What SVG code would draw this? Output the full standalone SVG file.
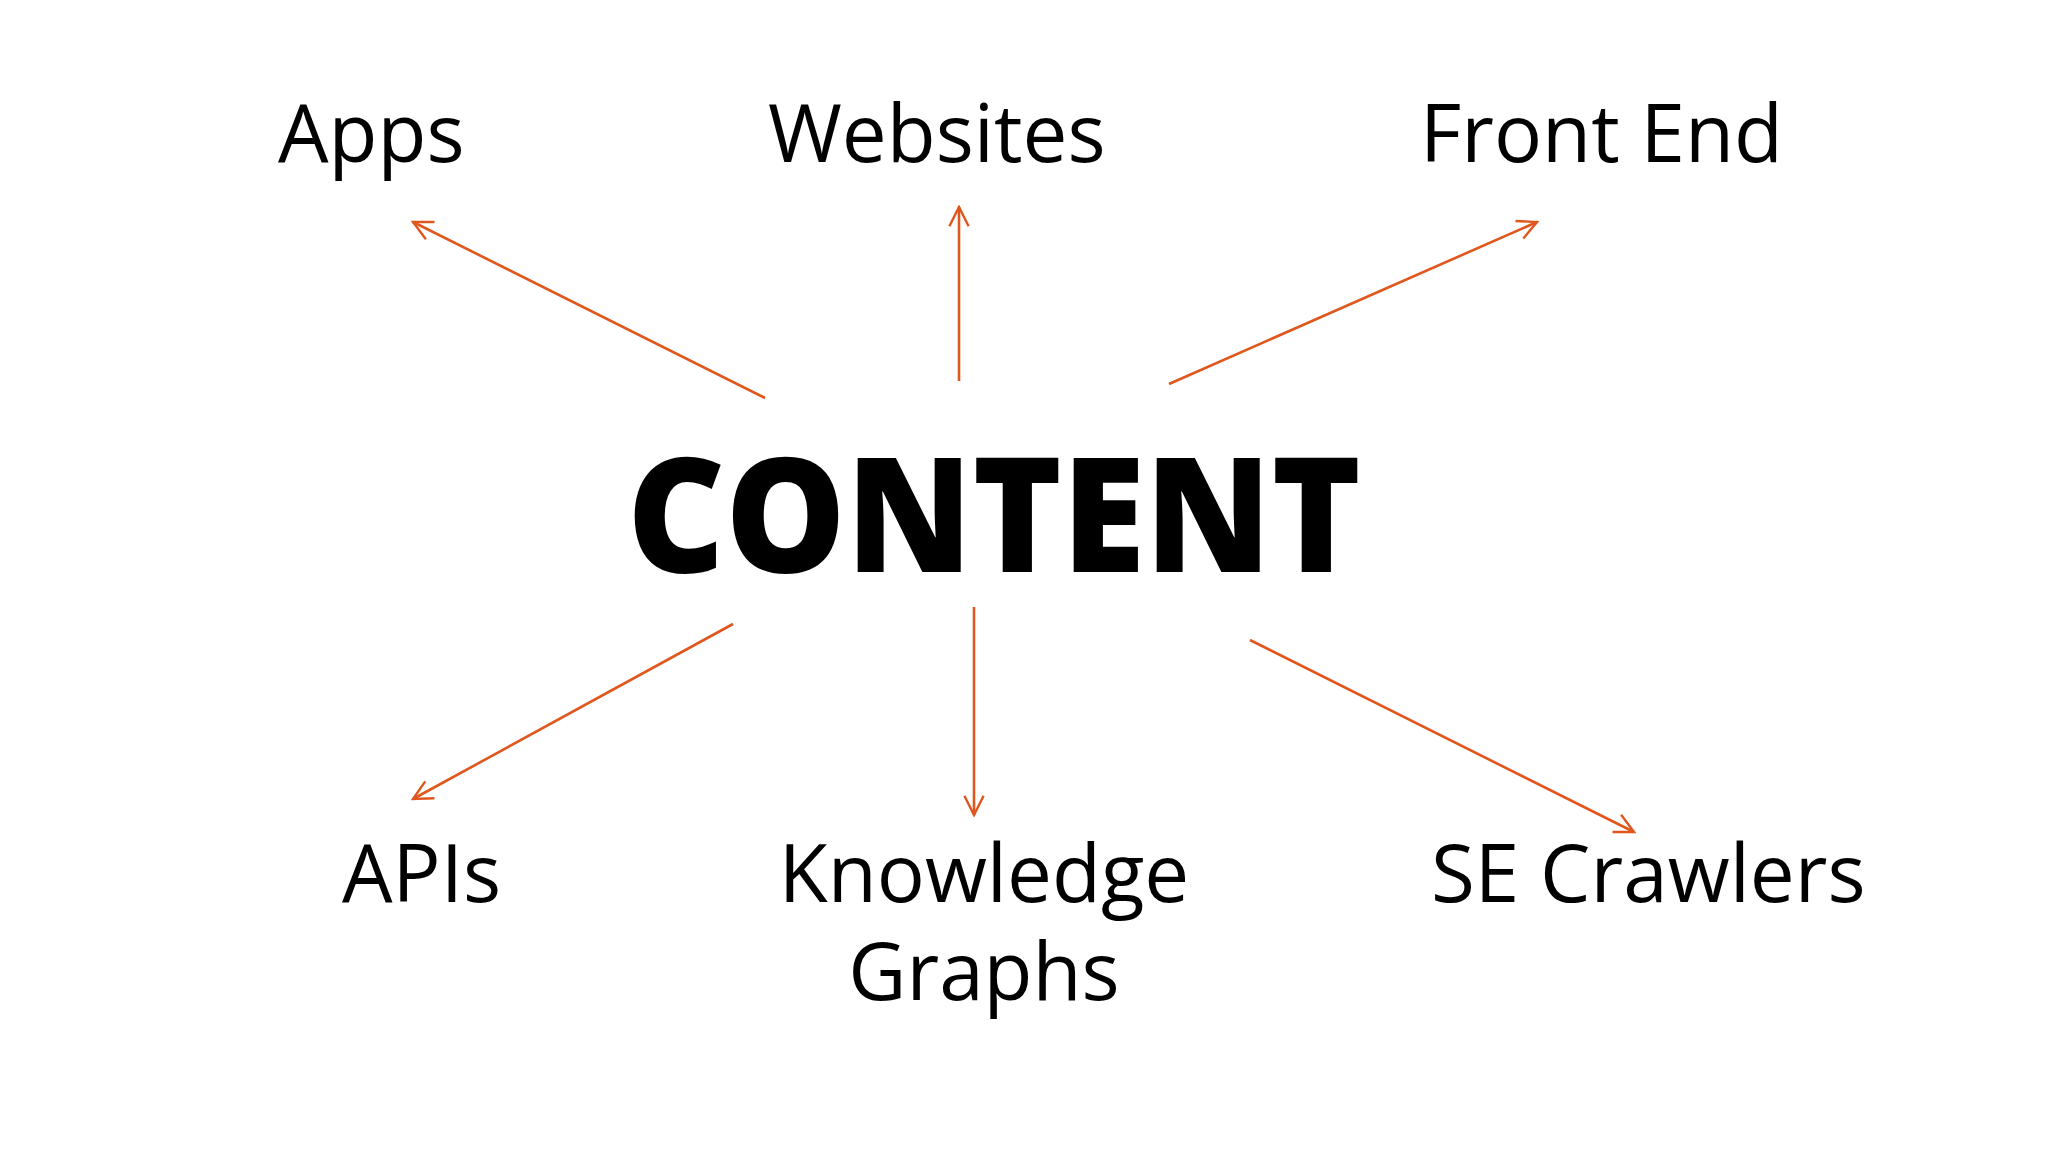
<svg xmlns="http://www.w3.org/2000/svg" width="2048" height="1152" viewBox="0 0 2048 1152">
<defs>
<style>
.l{font-family:"Open Sans","Liberation Sans",sans-serif;font-size:80px;fill:#000}
.c{font-family:"Open Sans","Liberation Sans",sans-serif;font-size:160px;font-weight:800;fill:#000}
.e{stroke:#e0571e;stroke-width:2.6;fill:none;marker-end:url(#a)}
</style>
<marker id="a" viewBox="0 0 20 20" refX="18" refY="10" markerWidth="24" markerHeight="24" markerUnits="userSpaceOnUse" orient="auto"><path d="M2,2 L18,10 L2,18" fill="none" stroke="#e0571e" stroke-width="2"/></marker>
</defs>
<rect width="2048" height="1152" fill="#fff"/>
<g id="connectors">
<line class="e" x1="765" y1="398" x2="413" y2="222"/>
<line class="e" x1="959" y1="381" x2="959" y2="207"/>
<line class="e" x1="1169" y1="384" x2="1537" y2="222"/>
<line class="e" x1="733" y1="624" x2="413" y2="799"/>
<line class="e" x1="974" y1="607" x2="974" y2="815"/>
<line class="e" x1="1250" y1="640" x2="1634" y2="832"/>
</g>
<g id="content"><text class="c" x="627" y="572" textLength="734" lengthAdjust="spacingAndGlyphs">CONTENT</text></g>
<g id="apps"><text class="l" x="278" y="162">Apps</text></g>
<g id="websites"><text class="l" x="768" y="162">Websites</text></g>
<g id="frontend"><text class="l" x="1420" y="162">Front End</text></g>
<g id="apis"><text class="l" x="342" y="902">APIs</text></g>
<g id="kg"><text class="l" x="984" y="902" text-anchor="middle">Knowledge</text><text class="l" x="984" y="1000" text-anchor="middle">Graphs</text></g>
<g id="se"><text class="l" x="1431" y="902">SE Crawlers</text></g>
</svg>
